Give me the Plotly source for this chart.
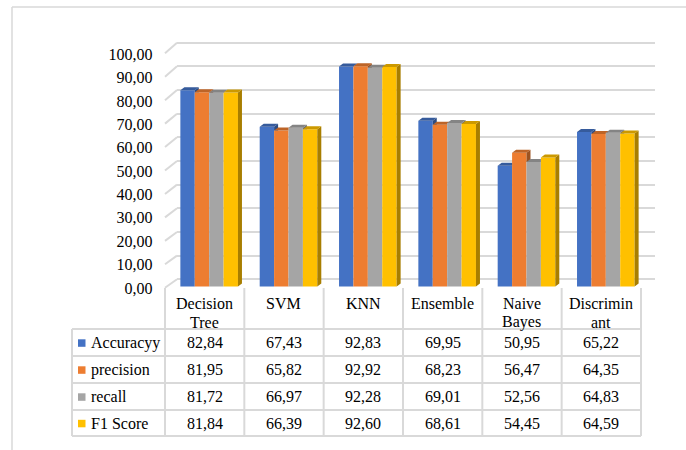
import plotly.graph_objects as go

# ---- data ----
categories = ["Decision Tree", "SVM", "KNN", "Ensemble", "Naive Bayes", "Discriminant"]
category_labels = ["Decision<br>Tree", "SVM", "KNN", "Ensemble", "Naive<br>Bayes", "Discrimin<br>ant"]
series_names = ["Accuracyy", "precision", "recall", "F1 Score"]
accuracy = [82.84, 67.43, 92.83, 69.95, 50.95, 65.22]
precision = [81.95, 65.82, 92.92, 68.23, 56.47, 64.35]
recall = [81.72, 66.97, 92.28, 69.01, 52.56, 64.83]
f1_score = [81.84, 66.39, 92.60, 68.61, 54.45, 64.59]
tick_values = [0, 10, 20, 30, 40, 50, 60, 70, 80, 90, 100]

series_values = [accuracy, precision, recall, f1_score]
series_colors = ["#4472C4", "#ED7D31", "#A5A5A5", "#FFC000"]

# ---- page geometry (pixels) ----
W, H = 686, 450
FONT = "Liberation Serif, Times New Roman, serif"
LINE = "#D9D9D9"

TABLE_LEFT = 72          # left edge of the series-name column
COL_LEFT = 165           # left edge of the first category column
COL_W = 79.33            # width of a category column
ROW_EDGES = [329, 356, 383, 410, 436]
HEADER_TOP = 288

# value scale of the bar fronts: pixel = ZERO - SCALE * value
BAR_ZERO, BAR_SCALE = 286.5, 2.37
# back wall gridlines and front edge of the side wall
BACK_ZERO, BACK_SCALE = 279.3, 2.366
FRONT_ZERO, FRONT_SCALE = 287.7, 2.344
LABEL_ZERO, LABEL_SCALE = 288.0, 2.337
WALL_FRONT_X, WALL_BACK_X, WALL_RIGHT_X = 165, 177, 655

BAR_W_PX = 14.4
GROUP_SHIFT_PX = 4.5
DEPTH_DX_PX, DEPTH_DY_PX = 4.0, 3.0


def fx(px):
    return px / W


def fy(py):
    return 1 - py / H


def shade(hex_color, k):
    r, g, b = (int(hex_color[i:i + 2], 16) for i in (1, 3, 5))
    return "rgb({},{},{})".format(int(r * k), int(g * k), int(b * k))


def fmt(v):
    return "{:.2f}".format(v).replace(".", ",")


# data-unit conversions for the bar axes
x_lo = (0 - COL_LEFT) / COL_W - 0.5
x_hi = (W - COL_LEFT) / COL_W - 0.5
y_lo = (BAR_ZERO - H) / BAR_SCALE
y_hi = BAR_ZERO / BAR_SCALE
bw = BAR_W_PX / COL_W
ddx = DEPTH_DX_PX / COL_W
ddy = DEPTH_DY_PX / BAR_SCALE
n_series = len(series_values)

fig = go.Figure()

# empty trace so the back-wall subplot (and its gridlines) is rendered
fig.add_trace(go.Scatter(x=[None], y=[None], xaxis="x", yaxis="y",
                         showlegend=False, hoverinfo="skip"))

# front faces of the columns
for k, (name, vals, col) in enumerate(zip(series_names, series_values, series_colors)):
    offset = (GROUP_SHIFT_PX - n_series / 2 * BAR_W_PX) / COL_W + k * bw
    fig.add_trace(go.Bar(
        x=list(range(len(categories))), y=vals, name=name,
        width=bw, offset=offset, marker=dict(color=col, line=dict(width=0)),
        xaxis="x2", yaxis="y2", showlegend=False, hoverinfo="skip",
    ))

# side and top faces giving the columns their depth
side_traces, top_traces = [], []
for k, (vals, col) in enumerate(zip(series_values, series_colors)):
    sx, sy, tx, ty = [], [], [], []
    offset = (GROUP_SHIFT_PX - n_series / 2 * BAR_W_PX) / COL_W + k * bw
    for i, v in enumerate(vals):
        xl = i + offset
        xr = xl + bw
        nxt = series_values[k + 1][i] if k + 1 < n_series else None
        # right side face
        if nxt is None:
            sx += [xr, xr, xr + ddx, xr + ddx, xr, None]
            sy += [0, v, v + ddy, ddy, 0, None]
        elif v > nxt:
            sx += [xr, xr, xr + ddx, xr + ddx, xr, None]
            sy += [nxt, v, v + ddy, nxt, nxt, None]
        # top face, trimmed where the next taller column hides it
        if nxt is not None and nxt > v:
            c = min(nxt, v + ddy)
            xe = xr + (c - v) / ddy * ddx
            tx += [xl, xl + ddx, xr + ddx, xe, xr, xr, xl, None]
            ty += [v, v + ddy, v + ddy, c, c, v, v, None]
        else:
            tx += [xl, xl + ddx, xr + ddx, xr, xl, None]
            ty += [v, v + ddy, v + ddy, v, v, None]
    side_traces.append(go.Scatter(
        x=sx, y=sy, mode="lines", fill="toself", fillcolor=shade(col, 0.66),
        line=dict(width=0), xaxis="x2", yaxis="y2", showlegend=False, hoverinfo="skip"))
    top_traces.append(go.Scatter(
        x=tx, y=ty, mode="lines", fill="toself", fillcolor=shade(col, 0.8),
        line=dict(width=0), xaxis="x2", yaxis="y2", showlegend=False, hoverinfo="skip"))
for t in side_traces + top_traces:
    fig.add_trace(t)

shapes = []
annotations = []

# outer chart border
shapes.append(dict(type="line", xref="paper", yref="paper",
                   x0=fx(12), y0=fy(7), x1=fx(W + 5), y1=fy(7),
                   line=dict(color=LINE, width=1.5)))
shapes.append(dict(type="line", xref="paper", yref="paper",
                   x0=fx(12), y0=fy(7), x1=fx(12), y1=fy(H + 5),
                   line=dict(color=LINE, width=1.5)))

# side-wall lines joining the axis labels to the back gridlines
for g in tick_values:
    shapes.append(dict(type="line", xref="paper", yref="paper",
                       x0=fx(WALL_FRONT_X), y0=fy(FRONT_ZERO - FRONT_SCALE * g),
                       x1=fx(WALL_BACK_X), y1=fy(BACK_ZERO - BACK_SCALE * g),
                       line=dict(color=LINE, width=2)))

# data table grid
col_edges = [COL_LEFT + COL_W * j for j in range(len(categories) + 1)]
for yy in ROW_EDGES:
    shapes.append(dict(type="line", xref="paper", yref="paper",
                       x0=fx(TABLE_LEFT), y0=fy(yy), x1=fx(col_edges[-1]), y1=fy(yy),
                       line=dict(color=LINE, width=2)))
shapes.append(dict(type="line", xref="paper", yref="paper",
                   x0=fx(TABLE_LEFT), y0=fy(ROW_EDGES[0]), x1=fx(TABLE_LEFT), y1=fy(ROW_EDGES[-1]),
                   line=dict(color=LINE, width=2)))
for xx in col_edges:
    shapes.append(dict(type="line", xref="paper", yref="paper",
                       x0=fx(xx), y0=fy(HEADER_TOP), x1=fx(xx), y1=fy(ROW_EDGES[-1]),
                       line=dict(color=LINE, width=2)))

# category headers
for j, lab in enumerate(category_labels):
    cx = COL_LEFT + COL_W * (j + 0.5)
    for li, part in enumerate(lab.split("<br>")):
        annotations.append(dict(xref="paper", yref="paper", x=fx(cx), y=fy(303 + 19 * li),
                                text=part, showarrow=False, xanchor="center", yanchor="middle",
                                font=dict(family=FONT, size=16, color="#000000")))

# series rows: legend key, name and values
for r, (name, vals, col) in enumerate(zip(series_names, series_values, series_colors)):
    cy = (ROW_EDGES[r] + ROW_EDGES[r + 1]) / 2
    shapes.append(dict(type="rect", xref="paper", yref="paper",
                       x0=fx(78), x1=fx(85.5), y0=fy(cy - 3.2), y1=fy(cy + 4.3),
                       fillcolor=col, line=dict(width=0)))
    annotations.append(dict(xref="paper", yref="paper", x=fx(89), y=fy(cy),
                            text=name, showarrow=False, xanchor="left", yanchor="middle",
                            font=dict(family=FONT, size=16, color="#000000")))
    for j, v in enumerate(vals):
        cx = COL_LEFT + COL_W * (j + 0.5)
        annotations.append(dict(xref="paper", yref="paper", x=fx(cx), y=fy(cy),
                                text=fmt(v), showarrow=False, xanchor="center", yanchor="middle",
                                font=dict(family=FONT, size=16, color="#000000")))

fig.update_layout(
    width=W, height=H,
    margin=dict(l=0, r=0, t=0, b=0),
    paper_bgcolor="white", plot_bgcolor="rgba(0,0,0,0)",
    separators=",.",
    barmode="overlay",
    showlegend=False,
    font=dict(family=FONT, size=16, color="#000000"),
    # back wall carrying the gridlines
    xaxis=dict(domain=[fx(WALL_BACK_X), fx(WALL_RIGHT_X)], range=[0, 1], anchor="y",
               showgrid=False, zeroline=False, showticklabels=False, showline=False, ticks=""),
    yaxis=dict(domain=[0, 1], anchor="x",
               range=[(BACK_ZERO - H) / BACK_SCALE, BACK_ZERO / BACK_SCALE],
               tickmode="array", tickvals=tick_values, showgrid=True, gridcolor=LINE, gridwidth=2,
               zeroline=False, showticklabels=False, showline=False, ticks=""),
    # columns
    xaxis2=dict(domain=[0, 1], range=[x_lo, x_hi], anchor="y2",
                showgrid=False, zeroline=False, showticklabels=False, showline=False, ticks=""),
    yaxis2=dict(domain=[0, 1], range=[y_lo, y_hi], anchor="x2",
                showgrid=False, zeroline=False, showticklabels=False, showline=False, ticks=""),
    # value labels along the front edge of the side wall
    yaxis3=dict(overlaying="y2", anchor="free", position=fx(152.5), side="left",
                range=[(LABEL_ZERO - H) / LABEL_SCALE, LABEL_ZERO / LABEL_SCALE],
                tickmode="array", tickvals=tick_values, tickformat=".2f",
                showgrid=False, zeroline=False, showline=False, ticks="",
                tickfont=dict(family=FONT, size=16, color="#000000")),
    shapes=shapes,
    annotations=annotations,
)

fig.add_trace(go.Scatter(x=[None], y=[None], xaxis="x2", yaxis="y3",
                         showlegend=False, hoverinfo="skip"))

fig.write_html("out.html")
